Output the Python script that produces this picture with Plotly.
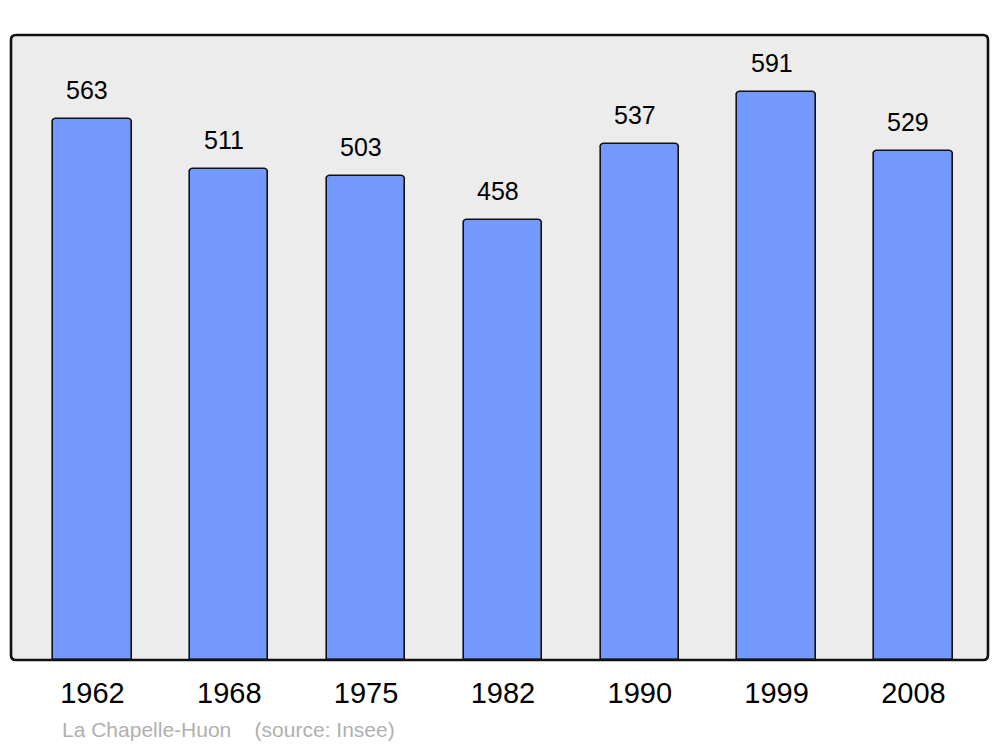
import plotly.graph_objects as go

years = ["1962", "1968", "1975", "1982", "1990", "1999", "2008"]
population = [563, 511, 503, 458, 537, 591, 529]
caption = "La Chapelle-Huon    (source: Insee)"

xs = list(range(len(years)))
FONT = "Liberation Sans, Arial, sans-serif"

PW, PH = 977, 625  # plot area size in px

fig = go.Figure()
fig.add_trace(go.Bar(
    x=xs, y=population, width=0.572,
    marker=dict(color="#7399ff", line=dict(color="#111111", width=1.6), cornerradius=4),
    hoverinfo="skip",
))

for x, v in zip(xs, population):
    fig.add_annotation(x=x, y=v, text=str(v), showarrow=False, yanchor="middle",
                       yshift=29, xshift=-5, font=dict(size=25, color="#000000", family=FONT))

fig.add_annotation(xref="paper", yref="paper", x=(62 - 11) / PW, y=-(729 - 660) / PH,
                   text=caption, showarrow=False, xanchor="left", yanchor="middle",
                   xshift=-2,
                   font=dict(size=21, color="#b0b0b0", family=FONT))

# rounded frame
rx, ry = 5 / PW, 5 / PH
path = (f"M {rx},0 L {1-rx},0 Q 1,0 1,{ry} L 1,{1-ry} Q 1,1 {1-rx},1 "
        f"L {rx},1 Q 0,1 0,{1-ry} L 0,{ry} Q 0,0 {rx},0 Z")
fig.add_shape(type="path", xref="paper", yref="paper", path=path,
              line=dict(color="#111111", width=2.6), fillcolor="rgba(0,0,0,0)", layer="above")

fig.update_layout(
    width=984, height=739,
    margin=dict(l=3, r=4, t=27, b=87),
    paper_bgcolor="#ffffff", plot_bgcolor="#ececec",
    showlegend=False,
    bargap=0,
    xaxis=dict(range=[-0.595, 6.545], tickmode="array", tickvals=xs, ticktext=years,
               showgrid=False, zeroline=False, showline=False, ticks="",
               ticklabelstandoff=13,
               tickfont=dict(size=29, color="#000000", family=FONT),
               fixedrange=True),
    yaxis=dict(range=[0, 650], showgrid=False, zeroline=False, showticklabels=False,
               showline=False, ticks="", fixedrange=True),
)

fig.write_html("out.html")
